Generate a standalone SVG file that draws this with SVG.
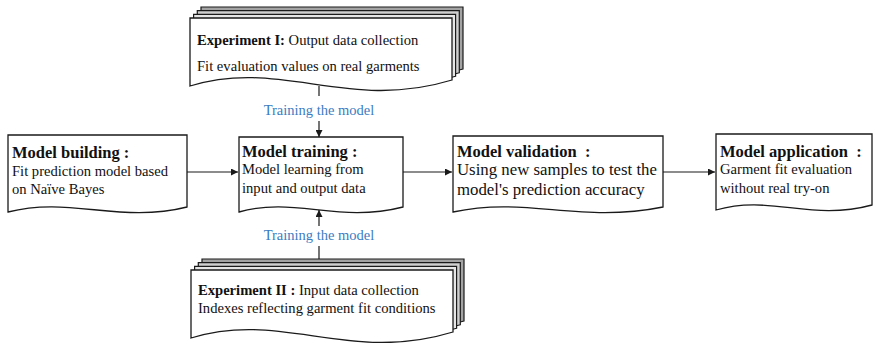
<svg xmlns="http://www.w3.org/2000/svg" width="873" height="343" viewBox="0 0 873 343">
  <style>
    .doc { fill: #ffffff; stroke: #1a1a1a; stroke-width: 1.3; }
    .s1 { fill: #e6e6e6; stroke: #1a1a1a; stroke-width: 1.2; }
    .s2 { fill: #cfcfcf; stroke: #1a1a1a; stroke-width: 1.2; }
    .s3 { fill: #a3a3a3; stroke: #1a1a1a; stroke-width: 1.2; }
    .t { font-family: "Liberation Serif", "Times New Roman", serif; fill: #111111; white-space: pre; }
    .title { font-size: 16.5px; font-weight: bold; }
    .body { font-size: 14.6px; }
    .body17 { font-size: 16.8px; }
    .eb { font-size: 14.6px; font-weight: bold; }
    .lbl { font-family: "Liberation Serif", "Times New Roman", serif; font-size: 14.5px; fill: #3b7cc2; text-anchor: middle; }
    .edge { fill: none; stroke: #1a1a1a; stroke-width: 1.2; }
  </style>
  <defs>
    <marker id="arrow" viewBox="0 0 10 10" refX="10" refY="5" markerWidth="9" markerHeight="7" markerUnits="userSpaceOnUse" orient="auto">
      <path d="M0,0 L10,5 L0,10 Z" fill="#1a1a1a"/>
    </marker>
    <!-- stacked document sheet, local origin at its top-left -->
    <path id="sheet" d="M0,0 H262 V62 C157,94 92,40 0,68 Z"/>
  </defs>

  <!-- Experiment I (stacked documents) -->
  <g id="experiment-1">
    <use href="#sheet" class="s3" x="201" y="7"/>
    <use href="#sheet" class="s2" x="197.3" y="10.7"/>
    <use href="#sheet" class="s1" x="193.6" y="14.3"/>
    <use href="#sheet" class="doc" x="190" y="18"/>
    <text class="t" x="197" y="45"><tspan class="eb">Experiment I:</tspan><tspan class="body"> Output data collection</tspan></text>
    <text class="t body" x="197" y="71">Fit evaluation values on real garments</text>
  </g>

  <!-- Experiment II (stacked documents) -->
  <g id="experiment-2">
    <use href="#sheet" class="s3" x="202" y="259"/>
    <use href="#sheet" class="s2" x="198.3" y="262.7"/>
    <use href="#sheet" class="s1" x="194.6" y="266.3"/>
    <use href="#sheet" class="doc" x="191" y="270"/>
    <text class="t" x="198" y="295"><tspan class="eb">Experiment II :</tspan><tspan class="body"> Input data collection</tspan></text>
    <text class="t body" x="198" y="313">Indexes reflecting garment fit conditions</text>
  </g>

  <!-- Model building -->
  <g id="model-building">
    <path class="doc" d="M8,135 H187 V207 C120,224 70,196 8,212 Z"/>
    <text class="t title" x="12" y="158">Model building :</text>
    <text class="t body" x="12" y="176">Fit prediction model based</text>
    <text class="t body" x="12" y="194">on Naïve Bayes</text>
  </g>

  <!-- Model training -->
  <g id="model-training">
    <path class="doc" d="M239,137 H403 V207 C337,224 296,196 239,212 Z"/>
    <text class="t title" x="242" y="157">Model training :</text>
    <text class="t body" x="242" y="174">Model learning from</text>
    <text class="t body" x="242" y="193">input and output data</text>
  </g>

  <!-- Model validation -->
  <g id="model-validation">
    <path class="doc" d="M453,136 H663 V207 C579,224 527,196 453,212 Z"/>
    <text class="t title" x="457" y="157">Model validation  :</text>
    <text class="t body17" x="457" y="175">Using new samples to test the</text>
    <text class="t body17" x="457" y="195">model's prediction accuracy</text>
  </g>

  <!-- Model application -->
  <g id="model-application">
    <path class="doc" d="M716,134 H872 V205 C810,222 771,194 716,210 Z"/>
    <text class="t title" x="720" y="157">Model application  :</text>
    <text class="t body" x="720" y="174">Garment fit evaluation</text>
    <text class="t body" x="720" y="193">without real try-on</text>
  </g>

  <!-- Connectors -->
  <g id="connectors">
    <line class="edge" x1="187" y1="172" x2="238" y2="172" marker-end="url(#arrow)"/>
    <line class="edge" x1="403" y1="172" x2="452" y2="172" marker-end="url(#arrow)"/>
    <line class="edge" x1="663" y1="172" x2="715" y2="172" marker-end="url(#arrow)"/>
    <line class="edge" x1="319" y1="86" x2="319" y2="96"/>
    <text class="lbl" x="319" y="115">Training the model</text>
    <line class="edge" x1="319" y1="121" x2="319" y2="137" marker-end="url(#arrow)"/>
    <line class="edge" x1="319" y1="259" x2="319" y2="246"/>
    <text class="lbl" x="319" y="240">Training the model</text>
    <line class="edge" x1="319" y1="226" x2="319" y2="210" marker-end="url(#arrow)"/>
  </g>
</svg>
